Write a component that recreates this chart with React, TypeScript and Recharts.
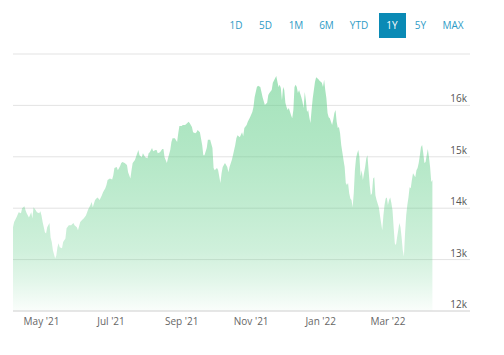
import React from 'react';
import { AreaChart, Area, XAxis, YAxis, CartesianGrid } from 'recharts';

// days since 6 Apr 2021
const dayIndex = [
  0, 1, 3, 5, 7, 8, 10, 11, 12, 14, 16, 17, 18, 20, 21, 23, 24, 25, 26, 28,
  29, 30, 32, 33, 34, 35, 37, 38, 39, 40, 41, 43, 44, 46, 47, 49, 51, 53, 54, 56,
  57, 59, 61, 62, 64, 66, 68, 69, 70, 72, 74, 75, 76, 78, 79, 81, 82, 83, 85, 87,
  88, 89, 91, 92, 94, 95, 96, 98, 100, 101, 103, 104, 105, 107, 109, 110, 111, 113, 114, 116,
  118, 119, 120, 122, 123, 125, 126, 127, 129, 131, 132, 133, 135, 136, 138, 139, 140, 142, 144, 145,
  146, 148, 149, 151, 153, 154, 155, 157, 158, 160, 161, 162, 164, 166, 167, 168, 170, 171, 173, 175,
  176, 177, 179, 180, 182, 183, 184, 186, 188, 189, 190, 192, 193, 195, 196, 197, 199, 201, 202, 203,
  205, 206, 208, 210, 211, 212, 214, 215, 217, 218, 219, 221, 223, 224, 225, 227, 228, 230, 231, 232,
  233, 234, 235, 236, 237, 238, 239, 240, 241, 242, 244, 245, 246, 247, 248, 249, 250, 251, 253, 254,
  255, 256, 257, 258, 259, 260, 261, 262, 263, 264, 265, 266, 267, 268, 269, 271, 272, 273, 274, 275,
  276, 277, 278, 280, 281, 282, 283, 284, 285, 286, 287, 288, 289, 290, 291, 292, 293, 294, 295, 296,
  297, 298, 299, 300, 301, 302, 303, 304, 305, 306, 307, 308, 309, 310, 311, 312, 313, 314, 315, 316,
  317, 318, 319, 321, 322, 323, 324, 325, 326, 327, 328, 329, 330, 331, 332, 333, 334, 335, 336, 337,
  339, 340, 341, 342, 343, 344, 345, 346, 347, 348, 349, 350, 351, 353, 354, 355, 356, 357, 358, 359,
  360, 361, 362, 363, 364, 365, 366, 367, 368,
];

const closeValues = [
  13630, 13730, 13820, 13920, 13900, 14000, 14040, 13960, 13900, 13820, 13920, 13800, 14020, 13960, 13920, 13900, 13940, 13860, 13730, 13530,
  13510, 13630, 13710, 13430, 13340, 13180, 13020, 13080, 13240, 13320, 13240, 13220, 13340, 13410, 13610, 13670, 13670, 13710, 13670, 13630,
  13570, 13730, 13780, 13800, 13860, 13980, 14060, 14120, 14020, 14160, 14210, 14190, 14160, 14250, 14310, 14390, 14450, 14550, 14580, 14560,
  14640, 14780, 14800, 14740, 14820, 14880, 14900, 14880, 14840, 14700, 14580, 14740, 14880, 14940, 15070, 15130, 15030, 14990, 15070, 14990,
  14970, 15070, 15090, 15170, 15110, 15130, 15130, 15070, 15090, 15150, 15150, 14990, 14880, 14970, 15130, 15290, 15360, 15360, 15290, 15460,
  15600, 15600, 15620, 15620, 15660, 15680, 15660, 15580, 15480, 15460, 15480, 15520, 15480, 15230, 15030, 15030, 15170, 15330, 15330, 15170,
  14780, 14740, 14780, 14740, 14490, 14680, 14800, 14880, 14800, 14700, 14800, 14940, 15030, 15230, 15360, 15420, 15380, 15480, 15400, 15560,
  15620, 15680, 15770, 15870, 15970, 16160, 16360, 16380, 16360, 16260, 16160, 16010, 16050, 16200, 16240, 16300, 16440, 16530, 16570, 16460,
  16360, 16400, 16340, 16100, 16360, 16300, 16050, 15970, 15910, 15950, 15810, 15750, 15910, 16360, 16400, 16360, 16240, 16300, 16160, 16070,
  15950, 16260, 16100, 15870, 15910, 15770, 15660, 15910, 16140, 16300, 16460, 16550, 16530, 16510, 16480, 16440, 16360, 16500, 16300, 16140,
  15850, 15770, 15750, 15620, 15720, 15850, 15910, 15680, 15560, 15580, 15460, 15230, 15090, 14940, 14800, 14490, 14450, 14490, 14290, 14190,
  14160, 14020, 14290, 14740, 14970, 15070, 15130, 14990, 14620, 14740, 14550, 14680, 14800, 14970, 15030, 14740, 14450, 14250, 14290, 14580,
  14600, 14250, 14160, 14020, 13860, 13710, 13570, 13860, 14060, 14190, 14210, 14060, 14160, 14210, 14100, 13960, 13630, 13320, 13280, 13430,
  13710, 13630, 13430, 13180, 13060, 13510, 13860, 14060, 14210, 14410, 14390, 14550, 14680, 14600, 14740, 14780, 14880, 15030, 15190, 15230,
  15070, 14880, 14900, 15030, 15150, 14990, 14800, 14510, 14550,
];

const monthTicks = [25, 86, 148, 209, 270, 329];
const monthLabels = ["May '21", "Jul '21", "Sep '21", "Nov '21", "Jan '22", "Mar '22"];

const priceTicks = [12000, 13000, 14000, 15000, 16000, 17000];
const priceLabels = ['12k', '13k', '14k', '15k', '16k', ''];

const ranges = ['1D', '5D', '1M', '6M', 'YTD', '1Y', '5Y', 'MAX'];
const activeRange = '1Y';
// horizontal centre of each range button, px
const rangeCenters = [236, 265.5, 296, 326.5, 359, 392, 420.5, 453];

const data = dayIndex.map((d, i) => ({ day: d, close: closeValues[i] }));

const FONT = '"Open Sans", sans-serif';

const PriceTick = (props: any) => {
  const { x, y, payload } = props;
  const label = priceLabels[priceTicks.indexOf(payload.value)];
  if (!label) return <g />;
  return (
    <text x={x - 3} y={y - 3} textAnchor="end" fontSize={10} fill="#555" fontFamily={FONT}>
      {label}
    </text>
  );
};

export default function App() {
  return (
    <div style={{ position: 'absolute', left: 0, top: 0, width: 504, height: 355, background: '#fff' }}>
      <AreaChart
        width={504}
        height={355}
        data={data}
        margin={{ top: 54, right: 0, bottom: 14, left: 13 }}
      >
        <defs>
          <linearGradient id="priceFill" x1="0" y1="0" x2="0" y2="1">
            <stop offset="0%" stopColor="#5fcd87" stopOpacity={0.95} />
            <stop offset="10%" stopColor="#5fcd87" stopOpacity={0.9} />
            <stop offset="32%" stopColor="#5fcd87" stopOpacity={0.8} />
            <stop offset="53%" stopColor="#5fcd87" stopOpacity={0.66} />
            <stop offset="74%" stopColor="#5fcd87" stopOpacity={0.5} />
            <stop offset="87%" stopColor="#5fcd87" stopOpacity={0.3} />
            <stop offset="100%" stopColor="#5fcd87" stopOpacity={0.05} />
          </linearGradient>
        </defs>
        <CartesianGrid vertical={false} stroke="#e3e3e3" />
        <XAxis
          dataKey="day"
          type="number"
          domain={[0, 401]}
          ticks={monthTicks}
          tickFormatter={(v: number) => monthLabels[monthTicks.indexOf(v)]}
          axisLine={{ stroke: '#dcdcdc' }}
          tickLine={false}
          tickSize={0}
          tickMargin={7}
          height={30}
          tick={{ fontSize: 10, fill: '#666', fontFamily: FONT }}
        />
        <YAxis
          orientation="right"
          domain={[12000, 17000]}
          ticks={priceTicks}
          axisLine={false}
          tickLine={false}
          tickSize={0}
          tickMargin={0}
          width={34}
          tick={<PriceTick />}
        />
        <Area
          type="linear"
          dataKey="close"
          stroke="none"
          fill="url(#priceFill)"
          isAnimationActive={false}
          dot={false}
          activeDot={false}
        />
      </AreaChart>
      {ranges.map((r, i) => (
        <div
          key={r}
          style={{
            position: 'absolute',
            left: rangeCenters[i] - 13.5,
            top: 13,
            width: 27,
            height: 25,
            lineHeight: '25px',
            textAlign: 'center',
            fontFamily: FONT,
            fontSize: 10,
            color: r === activeRange ? '#fff' : '#2e9bc6',
            background: r === activeRange ? '#0a8ab5' : 'transparent',
          }}
        >
          {r}
        </div>
      ))}
    </div>
  );
}
